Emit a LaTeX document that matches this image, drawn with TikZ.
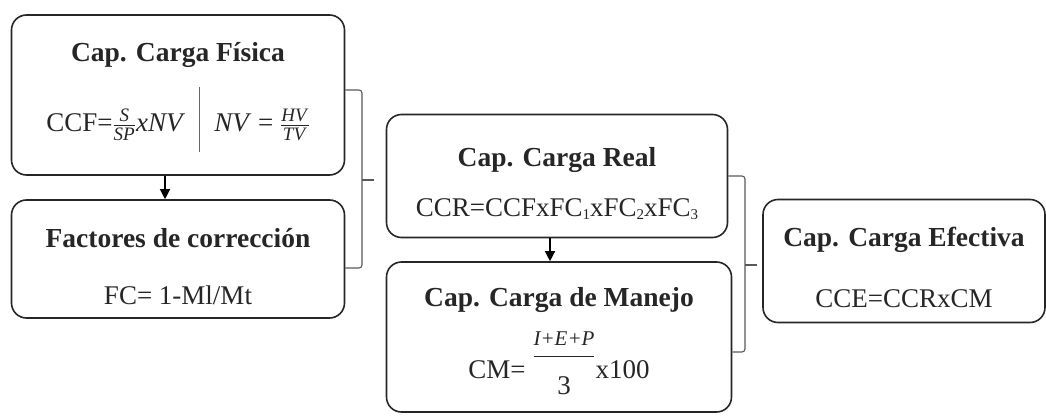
\documentclass[tikz,border=0pt]{standalone}
\usepackage{amsmath}
\usepackage{fontspec}
\setmainfont{Liberation Serif}
\usetikzlibrary{arrows.meta, positioning, calc}

\newcommand{\tit}[2][0pt]{{\fontsize{27.5}{32}\selectfont\rule{0pt}{#1}\textbf{#2}}}
\newcommand{\fr}[2]{\(\frac{\mbox{\fontsize{19}{19}\selectfont\textit{#1}}}{\mbox{\fontsize{19}{19}\selectfont\textit{#2}}}\)}
\newcommand{\sub}[1]{\raisebox{-3pt}{\fontsize{15}{15}\selectfont #1}}

\begin{document}
\begin{tikzpicture}[x=1pt, y=-1pt,
  box/.style={draw=black!85, line width=1.6pt, rounded corners=15pt, align=center,
    font=\fontsize{27}{32}\selectfont, text=black!85, inner sep=0pt},
  arr/.style={-{Triangle[length=10pt, width=10pt]}, line width=1.3pt},
  brk/.style={line width=1.1pt, draw=black!65, rounded corners=3pt}
]
  \useasboundingbox (0,0) rectangle (1046,417);

  % cajas
  \node[box, minimum width=333pt, minimum height=160pt] (fisica) at (178,95)
    {\tit[41pt]{Cap. Carga Física}\\[18pt]
     CCF=\fr{S}{SP}\textit{xNV}\hspace{14pt}{\color{black!60}\rule[-20pt]{1.2pt}{65pt}}\hspace{14pt}\textit{NV} = \fr{HV}{TV}\\[6pt]};
  \node[box, minimum width=333pt, minimum height=118pt] (factores) at (178,259)
    {\tit[35pt]{Factores de corrección}\\[25pt] FC= 1-Ml/Mt};
  \node[box, minimum width=341pt, minimum height=123pt] (real) at (557,176)
    {\tit[35pt]{Cap. Carga Real}\\[18pt] CCR=CCFxFC\sub{1}xFC\sub{2}xFC\sub{3}};
  \node[box, minimum width=345pt, minimum height=150pt] (manejo) at (559,337)
    {\tit[28pt]{Cap. Carga de Manejo}\\[18pt]
     CM= \raisebox{16pt}{\(\displaystyle\frac{\mbox{\fontsize{21}{24}\selectfont\textit{I+E+P}}}{\mbox{\rule{0pt}{35pt}3}}\)}x100};
  \node[box, minimum width=282pt, minimum height=123pt] (efectiva) at (904,261)
    {\tit[33pt]{Cap. Carga Efectiva}\\[29pt] CCE=CCRxCM};

  % flechas
  \draw[arr] ([xshift=-13pt]fisica.south) -- ([xshift=-13pt]factores.north);
  \draw[arr] ([xshift=-7pt]real.south) -- ([xshift=-9pt]manejo.north);

  % llaves
  \coordinate (b1) at (362,180);
  \coordinate (t1) at (374,180);
  \draw[brk] ([yshift=5pt]fisica.east) -| (b1) |- ([yshift=-9pt]factores.east);
  \draw[brk] (b1) -- (t1);
  \coordinate (b2) at (745,265);
  \coordinate (t2) at (757,265);
  \draw[brk] (real.east) -| (b2) |- ([yshift=-15pt]manejo.east);
  \draw[brk] (b2) -- (t2);
\end{tikzpicture}
\end{document}
